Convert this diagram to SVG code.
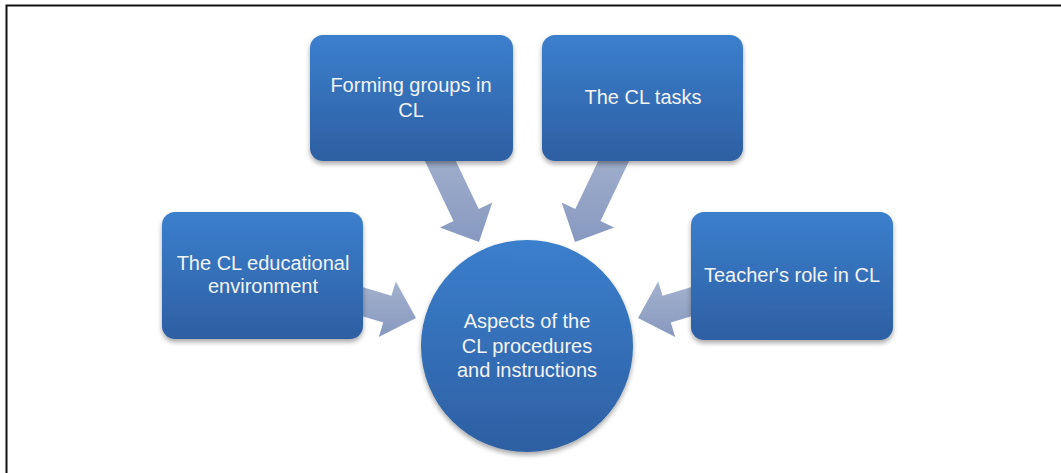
<svg xmlns="http://www.w3.org/2000/svg" width="1061" height="473" viewBox="0 0 1061 473">
  <defs>
    <linearGradient id="blueGrad" x1="0" y1="0" x2="0" y2="1">
      <stop offset="0" stop-color="#3b7fcd"/>
      <stop offset="1" stop-color="#2d5fa2"/>
    </linearGradient>
    <linearGradient id="arrowGrad" x1="0" y1="0" x2="0" y2="1">
      <stop offset="0" stop-color="#a3b1cd"/>
      <stop offset="1" stop-color="#8799c0"/>
    </linearGradient>
    <filter id="shadow" x="-10%" y="-10%" width="125%" height="130%">
      <feGaussianBlur in="SourceAlpha" stdDeviation="2.5"/>
      <feOffset dx="0" dy="3" result="b"/>
      <feComponentTransfer><feFuncA type="linear" slope="0.35"/></feComponentTransfer>
      <feMerge><feMergeNode/><feMergeNode in="SourceGraphic"/></feMerge>
    </filter>
  </defs>
  <style>
    .box { fill: url(#blueGrad); filter: url(#shadow); }
    .arrow { fill: url(#arrowGrad); }
    .label { font-family: "Liberation Sans", Arial, sans-serif; font-size: 20px; fill: #f3f3f3; text-anchor: middle; }
    .frame { stroke: #111111; stroke-width: 2; fill: none; }
  </style>
  <rect width="1061" height="473" fill="#ffffff"/>
  <path class="frame" d="M6.5,473 V5.5 H1061"/>

  <g id="connectors">
    <polygon class="arrow" points="447.7,144 478.7,208.9 492.3,202.4 479,242 439.9,227.4 453.5,220.9 422.5,156"/>
    <polygon class="arrow" points="606.3,144 575.3,208.9 561.7,202.4 575,242 614.1,227.4 600.5,220.9 631.5,156"/>
    <polygon class="arrow" points="354.1,284.4 391.4,295.8 395.8,281.5 416,318 378.8,336.9 383.2,322.6 345.9,311.2"/>
    <polygon class="arrow" points="699.9,284.4 662.6,295.8 658.2,281.5 638,318 675.2,336.9 670.8,322.6 708.1,311.2"/>
  </g>

  <g id="node-forming">
    <rect class="box" x="310" y="35" width="203" height="126" rx="13"/>
    <text class="label" x="411" y="92">Forming groups in</text>
    <text class="label" x="411" y="117">CL</text>
  </g>
  <g id="node-tasks">
    <rect class="box" x="542" y="35" width="201" height="126" rx="13"/>
    <text class="label" x="643" y="104">The CL tasks</text>
  </g>
  <g id="node-environment">
    <rect class="box" x="162" y="212" width="201" height="127" rx="13"/>
    <text class="label" x="263" y="270">The CL educational</text>
    <text class="label" x="263" y="293">environment</text>
  </g>
  <g id="node-teacher">
    <rect class="box" x="691" y="212" width="202" height="128" rx="13"/>
    <text class="label" x="792" y="282">Teacher's role in CL</text>
  </g>
  <g id="node-center">
    <circle class="box" cx="527" cy="346" r="106"/>
    <text class="label" x="527" y="328">Aspects of the</text>
    <text class="label" x="527" y="353">CL procedures</text>
    <text class="label" x="527" y="377">and instructions</text>
  </g>
</svg>
